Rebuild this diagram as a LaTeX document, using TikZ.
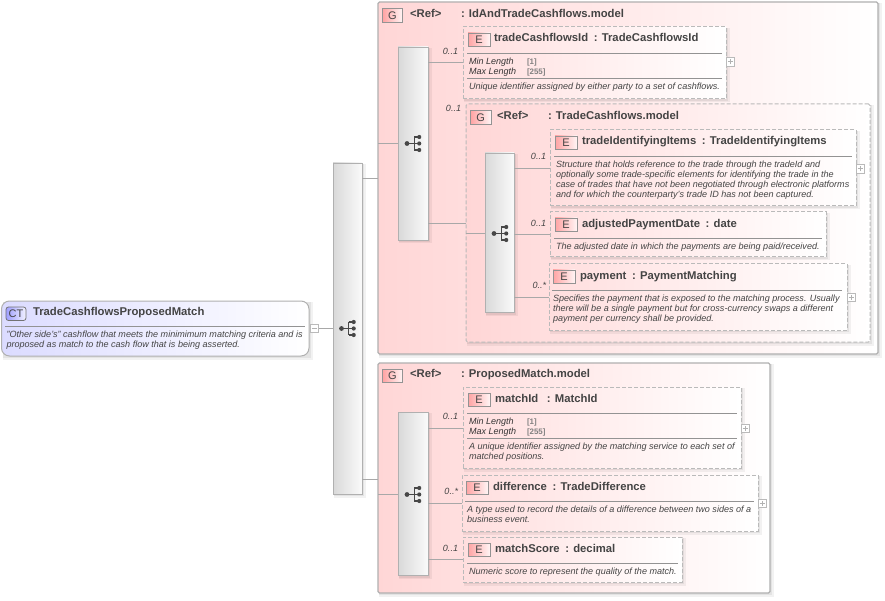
\documentclass[tikz,border=0pt]{standalone}
\usepackage{fontspec}
\setmainfont{Liberation Sans}
\definecolor{txt}{HTML}{444444}
\definecolor{bord}{HTML}{B0B0B0}
\definecolor{dashc}{HTML}{BABABA}
\definecolor{conn}{HTML}{A8A8A8}
\definecolor{grp}{HTML}{FFD6D6}
\definecolor{grpm}{HTML}{FFECEC}
\definecolor{barl}{HTML}{D9D9D9}
\definecolor{barr}{HTML}{FAFAFA}
\tikzset{
 boxn/.style={anchor=north west,inner sep=0pt,outer sep=0pt},
 elbox/.style={boxn,draw=dashc,line width=1pt,dash pattern=on 4pt off 2pt,left color=grp!80!white,middle color=grpm,right color=white},
 grpsolid/.style={boxn,draw=bord,line width=1.1pt,left color=grp,middle color=grpm,right color=white,rounded corners=1.5pt},
 grpdash/.style={boxn,draw=dashc,line width=1pt,dash pattern=on 4pt off 2pt,left color=grp,middle color=grpm,right color=white,rounded corners=1.5pt},
 barbox/.style={boxn,draw=bord,line width=.9pt,left color=barl,right color=barr},
 ctbox/.style={boxn,draw=bord,line width=1pt,left color=blue!14,middle color=blue!8,right color=white,rounded corners=8pt},
 iconbox/.style={anchor=north west,inner sep=0pt,outer sep=0pt,draw=gray!85,line width=.8pt,text=txt,font=\fontsize{11}{12}\selectfont,left color=red!36,right color=red!4},
 ctic/.style={anchor=north west,inner sep=0pt,outer sep=0pt,draw=black!55,line width=.8pt,rounded corners=2.5pt,text=txt,font=\fontsize{11}{12}\selectfont,left color=blue!38,right color=blue!5},
 title/.style={anchor=mid west,inner sep=0pt,outer sep=0pt,yshift=-1.3pt,text=txt,font=\bfseries\fontsize{11.3}{13}\selectfont},
 gtitle/.style={anchor=mid west,inner sep=0pt,outer sep=0pt,yshift=-1pt,text=txt,font=\bfseries\fontsize{11.3}{13}\selectfont},
 desc/.style={anchor=north west,inner sep=0pt,outer sep=0pt,text=txt,align=left,font=\itshape\fontsize{9.05}{10.2}\selectfont},
 facet/.style={anchor=mid west,inner sep=0pt,outer sep=0pt,text=black!80,font=\itshape\fontsize{9}{10}\selectfont},
 facetv/.style={anchor=mid west,inner sep=0pt,outer sep=0pt,text=gray,font=\bfseries\fontsize{7.9}{10}\selectfont},
 card/.style={anchor=mid east,inner sep=0pt,outer sep=0pt,text=txt,font=\itshape\fontsize{9}{10}\selectfont},
 tog/.style={anchor=north west,inner sep=0pt,outer sep=0pt,draw=dashc,line width=.8pt,fill=white,minimum width=8.5pt,minimum height=8.5pt},
 link/.style={draw=conn,line width=.8pt},
 rule/.style={draw=gray!85,line width=.8pt},
 glyph/.style={draw=gray!60,line width=.6pt},
 treeic/.style={draw=black!72,line width=1.1pt},
}
% shadow x0 y0 x1 y1
\newcommand{\shadowbox}[4]{%
 \fill[black,opacity=.05] ({#1+1},{#2+1}) rectangle ({#3+3.5},{#4+3.5});
 \fill[black,opacity=.06] ({#1+1},{#2+1}) rectangle ({#3+2.2},{#4+2.2});}
% name style x0 y0 x1 y1
\newcommand{\panel}[6]{%
 \shadowbox{#3}{#4}{#5}{#6}
 \node[#2,minimum width={(#5-#3)*1pt},minimum height={(#6-#4)*1pt}] (#1) at (#3,#4) {};}
% name x y (icon left, top), letter, width
\newcommand{\icon}[5]{\node[iconbox,minimum width=#5 pt,minimum height=13.5pt] (#1) at (#2,#3) {#4};}
% name x y tree glyph centered
\newcommand{\treeglyph}[3]{%
 \fill[black!72] ({#2-6},{#3+.5}) circle (2.4pt);
 \draw[treeic] ({#2-6},{#3+.5}) -- ({#2+6.2},{#3+.5});
 \draw[treeic] ({#2+1.2},{#3-6}) -- ({#2+1.2},{#3+7});
 \draw[treeic] ({#2+1.2},{#3-6}) -- ({#2+6.2},{#3-6});
 \draw[treeic] ({#2+1.2},{#3+7}) -- ({#2+6.2},{#3+7});
 \foreach \dy in {-6,.5,7} \fill[black!72] ({#2+6.2},{#3+\dy}) circle (2.1pt);}
% name x y plus toggle
\newcommand{\plus}[3]{\node[tog] (#1) at (#2,#3) {};
 \draw[glyph] ([xshift=1.8pt]#1.west) -- ([xshift=-1.8pt]#1.east);
 \draw[glyph] ([yshift=1.8pt]#1.south) -- ([yshift=-1.8pt]#1.north);}
\newcommand{\dtext}[4]{\node[desc] (#1) at (#2,{#3-3.9}) {\rule{0pt}{7pt}#4};}
\begin{document}
\begin{tikzpicture}[x=1pt,y=-1pt]
\useasboundingbox (0,0) rectangle (885,601);
\fill[white] (0,0) rectangle (885,601);

%% Root complex type
\panel{ct}{ctbox}{1.5}{301}{309}{356}
\node[ctic,minimum width=20pt,minimum height=13.5pt] (cticon) at (6,307) {CT};
\node[title] (cttitle) at (33,312) {TradeCashflowsProposedMatch};
\draw[rule] (5,326) -- (305,326);
\dtext{ctdesc}{6.5}{334}{"Other side's" cashflow that meets the minimimum matching criteria and is\\proposed as match to the cash flow that is being asserted.}
\node[tog] (ctmin) at (310,324) {};
\draw[glyph] ([xshift=1.8pt]ctmin.west) -- ([xshift=-1.8pt]ctmin.east);

%% Root sequence bar
\panel{root}{barbox}{333}{163}{362}{494}
\treeglyph{rootg}{347.5}{328}
\draw[link] (ctmin.east) -- (root.west |- ctmin.east);

%% Group 1
\panel{g1}{grpsolid}{378}{2}{878}{354}
\node[iconbox,minimum width=20pt,minimum height=13.5pt] (g1i) at (382.5,8.5) {G};
\node[gtitle] (g1r) at (410,13.5) {<Ref>};
\node[gtitle] (g1t) at (461,13.5) {: IdAndTradeCashflows.model};
\draw[link] (root.east |- 0,178) -- (g1.west |- 0,178);
\panel{b1}{barbox}{398}{47}{428}{240}
\treeglyph{b1g}{413}{143}
\draw[link] (g1.west |- 0,143) -- (b1.west |- 0,143);

%% tradeCashflowsId
\panel{e1}{elbox}{463}{27}{726}{99}
\icon{e1i}{468}{33}{E}{22}
\node[title] (e1t) at (494,38) {tradeCashflowsId\enspace: TradeCashflowsId};
\draw[rule] (467,53) -- (722,53);
\node[facet] (e1a) at (469,61.5) {Min Length};
\node[facet] (e1b) at (469,71.5) {Max Length};
\node[facetv] (e1c) at (527,61.5) {[1]};
\node[facetv] (e1d) at (527,71.5) {[255]};
\draw[rule] (467,78) -- (722,78);
\dtext{e1x}{469}{86}{Unique identifier assigned by either party to a set of cashflows.}
\plus{e1p}{726}{57.5}
\node[card] (e1n) at (458,52) {0..1};
\draw[link] (b1.east |- 0,62) -- (e1.west |- 0,62);

%% inner group
\panel{g2}{grpdash}{466}{104}{870}{342}
\node[iconbox,minimum width=20.5pt,minimum height=13.5pt] (g2i) at (470.5,110.5) {G};
\node[gtitle] (g2r) at (497,116) {<Ref>};
\node[gtitle] (g2t) at (548,116) {: TradeCashflows.model};
\node[card] (g2n) at (461,109) {0..1};
\draw[link] (b1.east |- 0,223) -- (g2.west |- 0,223);
\panel{b2}{barbox}{485}{153}{514}{312.5}
\treeglyph{b2g}{500}{233}
\draw[link] (g2.west |- 0,233) -- (b2.west |- 0,233);

%% tradeIdentifyingItems
\panel{e2}{elbox}{550}{130}{856}{206}
\icon{e2i}{555}{136}{E}{22}
\node[title] (e2t) at (582,141) {tradeIdentifyingItems\enspace: TradeIdentifyingItems};
\draw[rule] (554,156) -- (852,156);
\dtext{e2x}{556}{164}{Structure that holds reference to the trade through the tradeId and\\optionally some trade-specific elements for identifying the trade in the\\case of trades that have not been negotiated through electronic platforms\\and for which the counterparty's trade ID has not been captured.}
\plus{e2p}{856}{164.5}
\node[card] (e2n) at (546,157) {0..1};
\draw[link] (b2.east |- 0,168) -- (e2.west |- 0,168);

%% adjustedPaymentDate
\panel{e3}{elbox}{550}{212}{826}{257}
\icon{e3i}{555}{218}{E}{22}
\node[title] (e3t) at (582,224) {adjustedPaymentDate\enspace: date};
\draw[rule] (554,238) -- (822,238);
\dtext{e3x}{556}{246}{The adjusted date in which the payments are being paid/received.}
\node[card] (e3n) at (546,224) {0..1};
\draw[link] (b2.east |- 0,234) -- (e3.west |- 0,234);

%% payment
\panel{e4}{elbox}{549}{264}{847}{330}
\icon{e4i}{553}{270}{E}{22}
\node[title] (e4t) at (580,275.5) {payment\enspace: PaymentMatching};
\draw[rule] (552,290) -- (842,290);
\dtext{e4x}{553}{298}{Specifies the payment that is exposed to the matching process. Usually\\there will be a single payment but for cross-currency swaps a different\\payment per currency shall be provided.}
\plus{e4p}{847}{293}
\node[card] (e4n) at (546,286) {0..*};
\draw[link] (b2.east |- 0,297) -- (e4.west |- 0,297);

%% Group 2
\panel{g3}{grpsolid}{378}{363}{770}{593}
\node[iconbox,minimum width=20pt,minimum height=13.5pt] (g3i) at (382.5,369) {G};
\node[gtitle] (g3r) at (410,373.5) {<Ref>};
\node[gtitle] (g3t) at (461,373.5) {: ProposedMatch.model};
\draw[link] (root.east |- 0,479) -- (g3.west |- 0,479);
\panel{b3}{barbox}{398}{412}{428}{575.5}
\treeglyph{b3g}{413}{494}
\draw[link] (g3.west |- 0,494) -- (b3.west |- 0,494);

%% matchId
\panel{e5}{elbox}{463}{387}{741}{468}
\icon{e5i}{468}{393}{E}{22}
\node[title] (e5t) at (495,398.5) {matchId\enspace\hspace{3pt}: MatchId};
\draw[rule] (467,413) -- (737,413);
\node[facet] (e5a) at (469,421.5) {Min Length};
\node[facet] (e5b) at (469,431.5) {Max Length};
\node[facetv] (e5c) at (527,421.5) {[1]};
\node[facetv] (e5d) at (527,431.5) {[255]};
\draw[rule] (467,438) -- (737,438);
\dtext{e5x}{469}{446}{A unique identifier assigned by the matching service to each set of\\matched positions.}
\plus{e5p}{741}{424}
\node[card] (e5n) at (458,417) {0..1};
\draw[link] (b3.east |- 0,428) -- (e5.west |- 0,428);

%% difference
\panel{e6}{elbox}{462}{475}{758}{531}
\icon{e6i}{466}{481}{E}{22}
\node[title] (e6t) at (493,486.5) {difference\enspace: TradeDifference};
\draw[rule] (465,501) -- (754,501);
\dtext{e6x}{467}{509}{A type used to record the details of a difference between two sides of a\\business event.}
\plus{e6p}{758}{499}
\node[card] (e6n) at (458,492) {0..*};
\draw[link] (b3.east |- 0,503) -- (e6.west |- 0,503);

%% matchScore
\panel{e7}{elbox}{463}{537}{682}{582}
\icon{e7i}{468}{543}{E}{22}
\node[title] (e7t) at (495,548.5) {matchScore\enspace: decimal};
\draw[rule] (467,563) -- (678,563);
\dtext{e7x}{469}{571}{Numeric score to represent the quality of the match.}
\node[card] (e7n) at (458,549) {0..1};
\draw[link] (b3.east |- 0,559) -- (e7.west |- 0,559);
\end{tikzpicture}
\end{document}
